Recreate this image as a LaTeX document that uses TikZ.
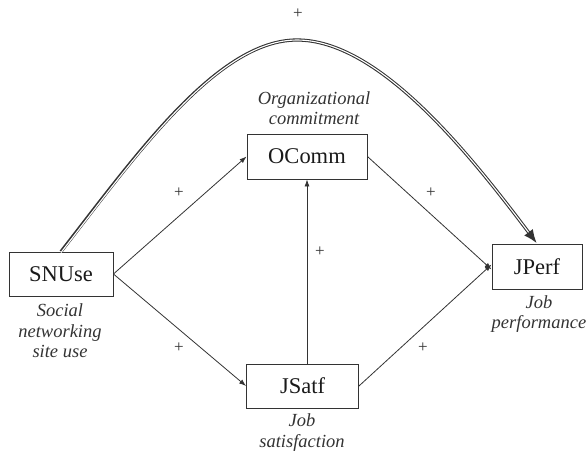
\documentclass[tikz,border=0pt]{standalone}
\usepackage{fontspec}
\setmainfont{Liberation Serif}
\usetikzlibrary{arrows.meta}
\definecolor{ink}{HTML}{333333}
\definecolor{txt}{HTML}{1a1a1a}
\begin{document}
\begin{tikzpicture}[x=1pt,y=-1pt,
  var/.style={draw=ink,line width=0.9pt,fill=white,inner sep=0pt,
    font=\fontsize{22.5}{26}\selectfont,text=txt},
  note/.style={font=\fontsize{18.5}{20.5}\selectfont\itshape,text=ink,align=center,inner sep=0pt},
  sign/.style={font=\fontsize{17}{18}\selectfont,text=ink,inner sep=0pt},
  path/.style={draw=ink,line width=0.8pt,-{Latex[length=7pt,width=5pt]}},
  direct outer/.style={draw=ink,line width=3.2pt,-{Latex[length=14pt,width=11pt]}},
  direct inner/.style={draw=white,line width=1.1pt,shorten >=14pt}]
\useasboundingbox (0,0) rectangle (587,452);

% variables
\node[var,minimum width=104pt,minimum height=44pt] (SNUse) at (61,274) {SNUse};
\node[var,minimum width=120pt,minimum height=45pt] (OComm) at (307,156.5) {OComm};
\node[var,minimum width=112pt,minimum height=44pt] (JSatf) at (302.5,386) {JSatf};
\node[var,minimum width=90pt,minimum height=45pt] (JPerf) at (537,266.5) {JPerf};

% descriptions
\node[note] (dSNUse) at (60,331) {Social\\networking\\site use};
\node[note] (dOComm) at (314,108) {Organizational\\commitment};
\node[note] (dJSatf) at (302,432.5) {Job\\satisfaction};
\node[note] (dJPerf) at (539,314) {Job\\performance};

% hypothesised paths
\draw[path] (SNUse.east) -- (OComm.west);
\draw[path] (SNUse.east) -- (JSatf.west);
\draw[path] (OComm.south |- JSatf.north) -- (OComm.south);
\draw[path] (OComm.east) -- ([yshift=-3pt]JPerf.west);
\draw[path] (JSatf.east) -- ([yshift=2pt]JPerf.west);

% direct effect: a wide dark stroke with a white core gives the double line
\coordinate (apex) at (297,40);
\draw[direct outer] (SNUse.north) .. controls +(74,-95) and +(-80,0) .. (apex)
  .. controls +(80,0) and +(-72,-96) .. (JPerf.north);
\draw[direct inner] ([yshift=-1pt]SNUse.north) .. controls +(74,-95) and +(-80,0) .. (apex)
  .. controls +(80,0) and +(-72,-96) .. (JPerf.north);

% signs
\node[sign] (s0) at (298,14) {+};
\node[sign] (s1) at (179,193) {+};
\node[sign] (s2) at (179,348) {+};
\node[sign] (s3) at (320,252) {+};
\node[sign] (s4) at (431,193) {+};
\node[sign] (s5) at (423,348) {+};
\end{tikzpicture}
\end{document}
